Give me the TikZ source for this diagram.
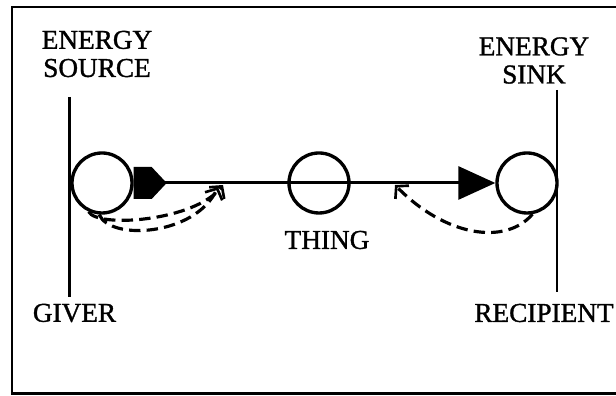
\documentclass[tikz,border=0pt]{standalone}
\usepackage{fontspec}
\setmainfont{Liberation Serif}[FakeBold=1.2]
\usetikzlibrary{arrows.meta,positioning}

\begin{document}
\begin{tikzpicture}[
        ball/.style={circle, draw=black, line width=1.9pt, minimum size=1.2cm, inner sep=0pt},
        lbl/.style={font=\fontsize{15.5}{16}\selectfont, align=center, inner sep=0pt},
        back/.style={dash pattern=on 6.5pt off 3.5pt, line width=1.8pt,
            -{Straight Barb[length=1.7mm,width=3.8mm,line width=1.5pt]}}
    ]
        \useasboundingbox (0,0) rectangle (12.32,7.92);
        \clip (0,0) rectangle (12.32,7.92);
        \draw[line width=1.5pt] (0.24,0.05) rectangle (12.6,7.78);
        % the three balls
        \node[ball] (src) at (2.04,4.26) {};
        \node[ball] (thing) at (6.38,4.26) {};
        \node[ball] (sink) at (10.54,4.26) {};
        % labels
        \node[lbl] (srclbl) at (1.94,6.84) {ENERGY\\SOURCE};
        \node[lbl] (sinklbl) at (10.68,6.71) {ENERGY\\SINK};
        \node[lbl] (giver) at (1.49,1.66) {GIVER};
        \node[lbl] (recip) at (10.88,1.66) {RECIPIENT};
        \node[lbl] (thinglbl) at (6.54,3.12) {THING};
        % the two walls
        \coordinate (giverTop) at (1.39,5.98);
        \coordinate (giverBot) at (1.39,1.98);
        \coordinate (recipTop) at (11.14,6.12);
        \coordinate (recipBot) at (11.14,2.08);
        \draw[line width=1.4pt] (giverTop) -- (giverBot);
        \draw[line width=1.4pt] (recipTop) -- (recipBot);
        % main flow
        \draw[line width=1.7pt, -{Triangle[length=0.74cm,width=0.66cm]}] (src.east) -- (sink.west);
        \fill (src.east) ++(0,0.32) -- ++(0.36,0) -- ++(0.3,-0.32) -- ++(-0.3,-0.32) -- ++(-0.36,0) -- cycle;
        % dashed returns
        \coordinate (tipA) at (4.46,4.22);
        \coordinate (tipB) at (4.36,4.18);
        \coordinate (tipC) at (7.9,4.22);
        \draw[back] (src.245) .. controls (1.95,3.35) and (3.9,3.5) .. (tipA);
        \draw[back] (src.265) .. controls (2.2,3.1) and (3.9,3.2) .. (tipB);
        \draw[back] (sink.280) .. controls (10.1,3.0) and (8.9,3.2) .. (tipC);
    \end{tikzpicture}
\end{document}
